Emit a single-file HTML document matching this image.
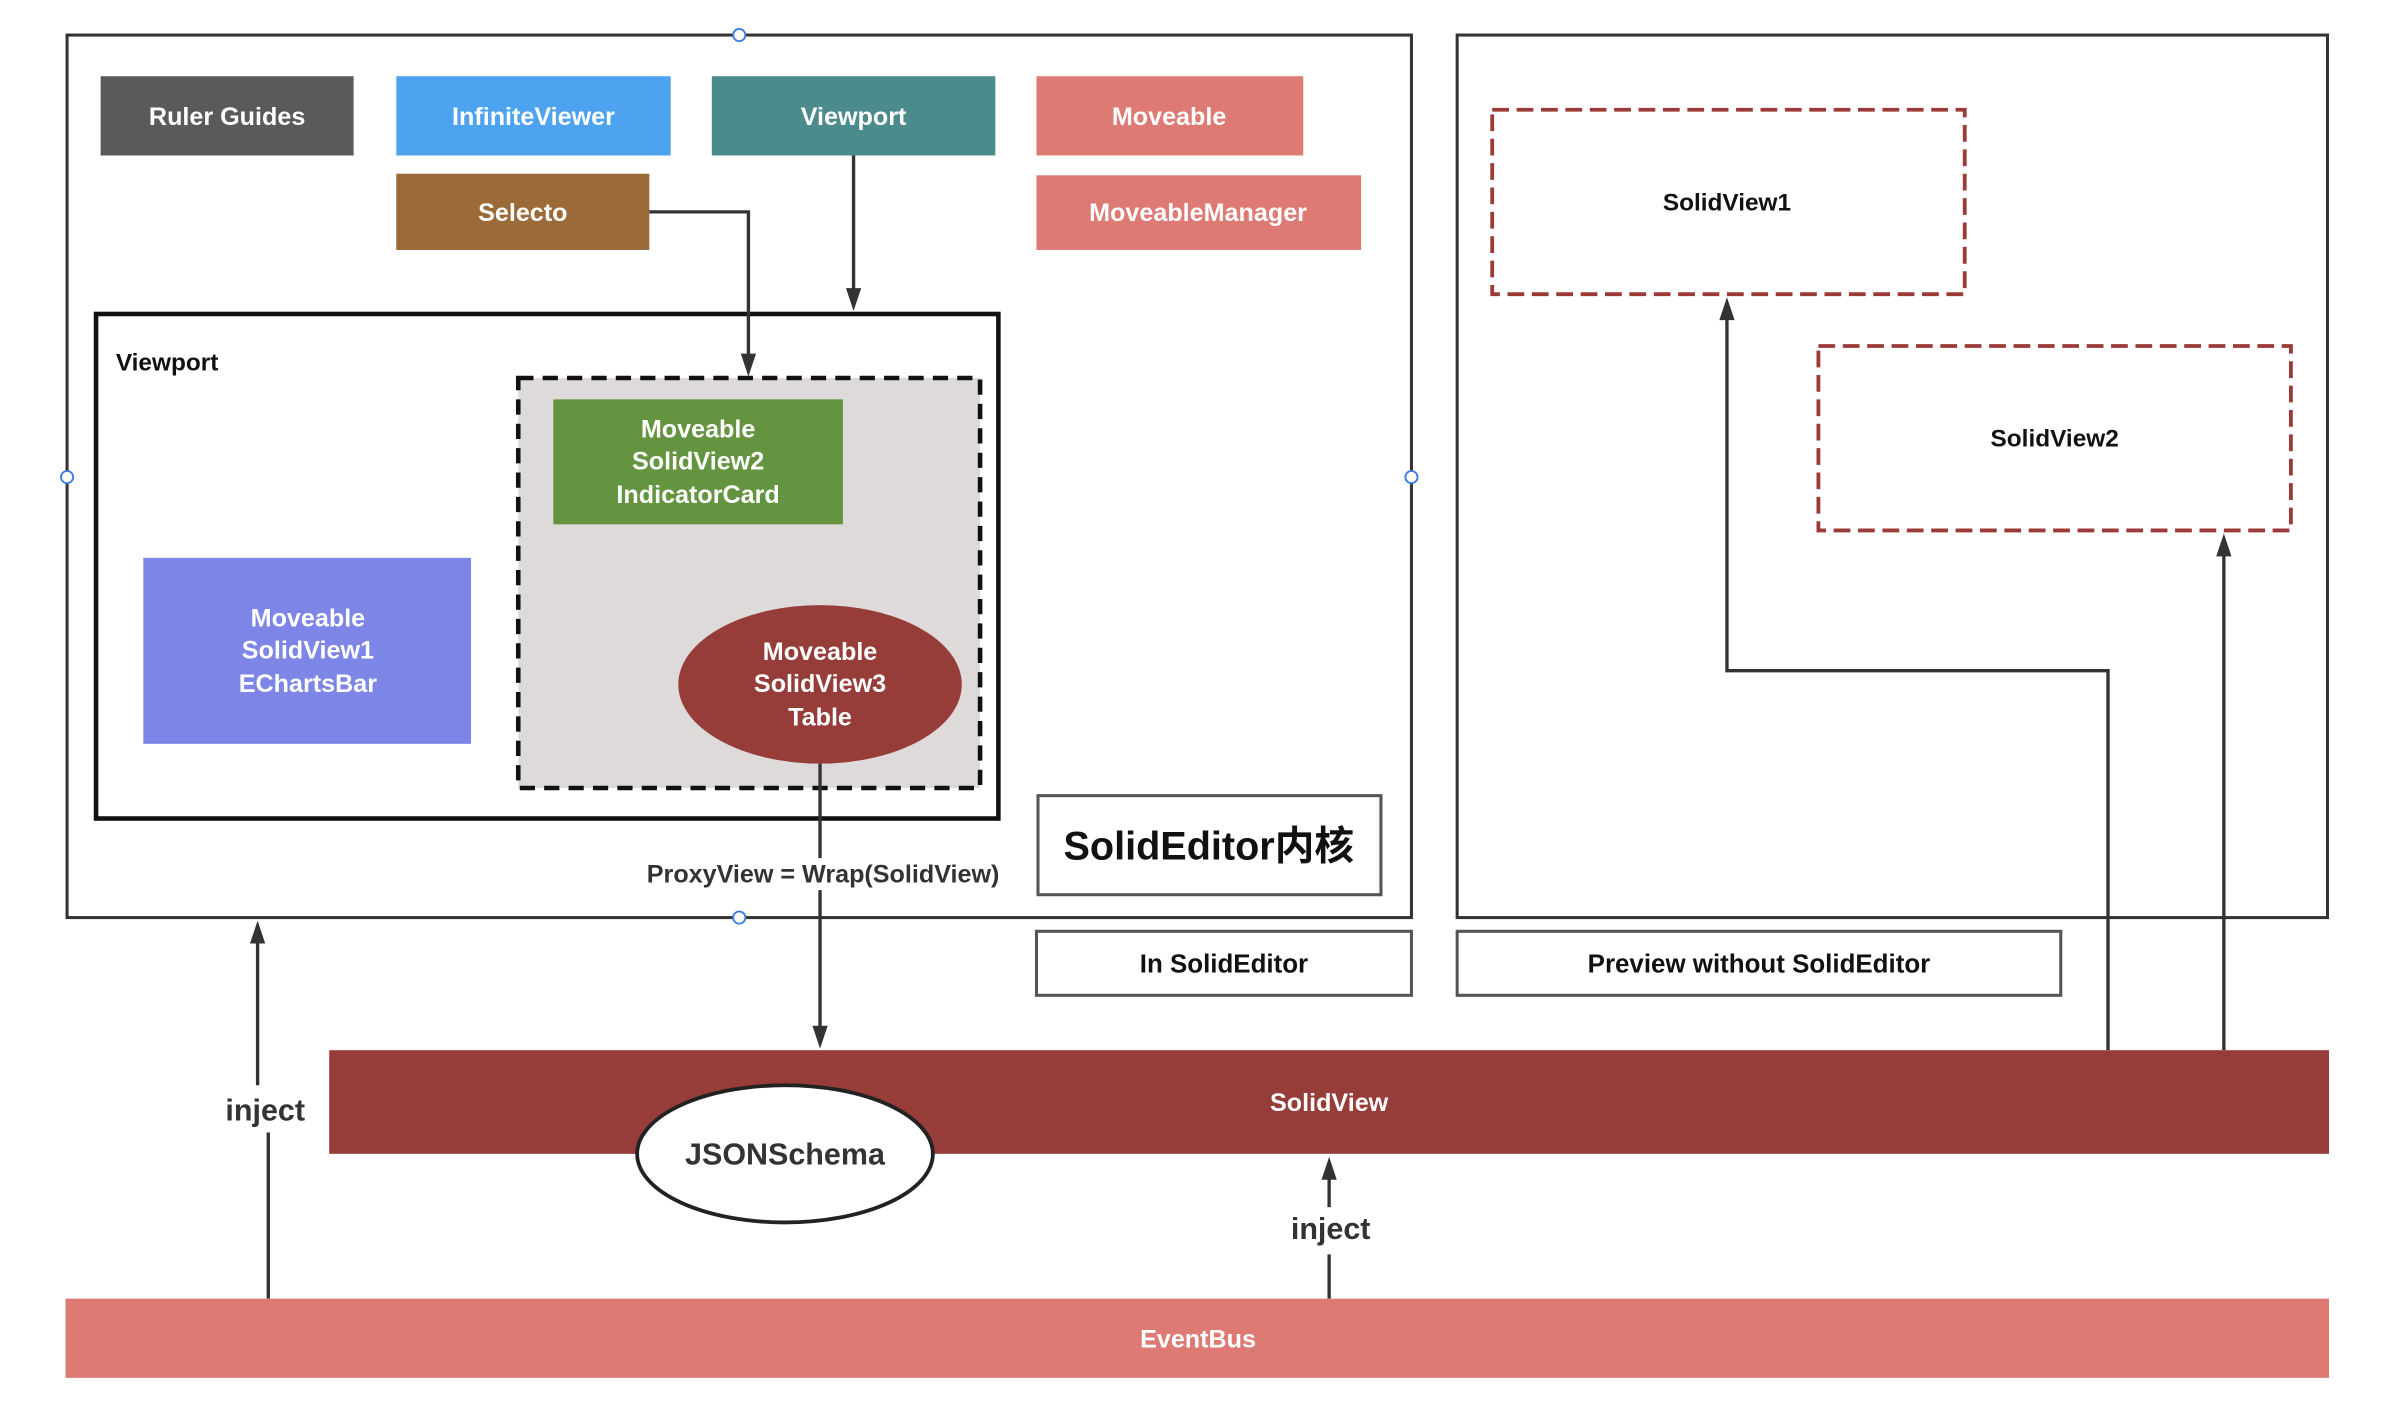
<!DOCTYPE html>
<html><head><meta charset="utf-8">
<style>
html,body{margin:0;padding:0;background:#fff;}
svg{display:block;}
text{font-family:"Liberation Sans","Noto Sans CJK SC",sans-serif;font-weight:bold;}
</style></head>
<body>
<svg width="2390" height="1416" viewBox="0 0 1568 929" xmlns="http://www.w3.org/2000/svg">
<rect width="1568" height="929" fill="#fff"/>
<rect x="44" y="23" width="882" height="579" fill="none" stroke="#333" stroke-width="2"/>
<rect x="956" y="23" width="571" height="579" fill="none" stroke="#333" stroke-width="2"/>
<g fill="#fff" stroke="#3a7be0" stroke-width="1.2">
<circle cx="485" cy="23" r="4"/><circle cx="44" cy="313" r="4"/><circle cx="926" cy="313" r="4"/><circle cx="485" cy="602" r="4"/>
</g>
<g font-size="16.5" text-anchor="middle">
<rect x="66" y="50" width="166" height="52" fill="#5a5a5a"/><text x="149" y="82" fill="#fff">Ruler Guides</text>
<rect x="260" y="50" width="180" height="52" fill="#4da3f0"/><text x="350" y="82" fill="#fff">InfiniteViewer</text>
<rect x="467" y="50" width="186" height="52" fill="#4c8b8c"/><text x="560" y="82" fill="#fff">Viewport</text>
<rect x="680" y="50" width="175" height="52" fill="#de7a74"/><text x="767" y="82" fill="#fff">Moveable</text>
<rect x="260" y="114" width="166" height="50" fill="#9c6a39"/><text x="343" y="145" fill="#fff">Selecto</text>
<rect x="680" y="115" width="213" height="49" fill="#de7a74"/><text x="786" y="145" fill="#fff">MoveableManager</text>
</g>
<rect x="63" y="206" width="592" height="331" fill="none" stroke="#111" stroke-width="3"/>
<text x="76" y="243" font-size="16" fill="#111">Viewport</text>
<rect x="340" y="248" width="303" height="269" fill="#dedada" stroke="#111" stroke-width="3" stroke-dasharray="10,6"/>
<rect x="363" y="262" width="190" height="82" fill="#649440"/>
<g font-size="16.5" text-anchor="middle">
<text x="458" y="287" fill="#fff">Moveable</text>
<text x="458" y="308" fill="#fff">SolidView2</text>
<text x="458" y="330" fill="#fff">IndicatorCard</text>
</g>
<rect x="94" y="366" width="215" height="122" fill="#7d85e6"/>
<g font-size="16.5" text-anchor="middle">
<text x="202" y="411" fill="#fff">Moveable</text>
<text x="202" y="432" fill="#fff">SolidView1</text>
<text x="202" y="454" fill="#fff">EChartsBar</text>
</g>
<ellipse cx="538" cy="449" rx="93" ry="52" fill="#963d3a"/>
<g font-size="16.5" text-anchor="middle">
<text x="538" y="433" fill="#fff">Moveable</text>
<text x="538" y="454" fill="#fff">SolidView3</text>
<text x="538" y="476" fill="#fff">Table</text>
</g>
<g stroke="#333" stroke-width="2.2" fill="none">
<path d="M426,139 H491 V236"/>
<path d="M560,102 V194"/>
<path d="M538,501 V563"/>
<path d="M538,584 V676"/>
<path d="M1383,689 V440 H1133 V206"/>
<path d="M1459,689 V362"/>
<path d="M176,852 V743"/>
<path d="M169,712 V618"/>
<path d="M872,852 V823"/>
<path d="M872,792 V771"/>
</g>
<g fill="#333">
<polygon points="486,232 496,232 491,247"/>
<polygon points="555,189 565,189 560,204"/>
<polygon points="533,673 543,673 538,688"/>
<polygon points="1128,210 1138,210 1133,195"/>
<polygon points="1454,365 1464,365 1459,350"/>
<polygon points="164,619 174,619 169,604"/>
<polygon points="867,774 877,774 872,759"/>
</g>
<text x="540" y="579" font-size="16.5" fill="#333" text-anchor="middle">ProxyView = Wrap(SolidView)</text>
<rect x="681" y="522" width="225" height="65" fill="#fff" stroke="#555" stroke-width="2"/>
<text x="793" y="564" font-size="26" fill="#111" text-anchor="middle">SolidEditor内核</text>
<rect x="680" y="611" width="246" height="42" fill="#fff" stroke="#555" stroke-width="2"/>
<text x="803" y="638" font-size="17" fill="#111" text-anchor="middle">In SolidEditor</text>
<rect x="956" y="611" width="396" height="42" fill="#fff" stroke="#555" stroke-width="2"/>
<text x="1154" y="638" font-size="17" fill="#111" text-anchor="middle">Preview without SolidEditor</text>
<rect x="979" y="72" width="310" height="121" fill="none" stroke="#9b3a37" stroke-width="2.5" stroke-dasharray="11,5"/>
<text x="1133" y="138" font-size="16" fill="#111" text-anchor="middle">SolidView1</text>
<rect x="1193" y="227" width="310" height="121" fill="none" stroke="#9b3a37" stroke-width="2.5" stroke-dasharray="11,5"/>
<text x="1348" y="293" font-size="16" fill="#111" text-anchor="middle">SolidView2</text>
<rect x="216" y="689" width="1312" height="68" fill="#963d3a"/>
<text x="872" y="729" font-size="16.5" fill="#fff" text-anchor="middle">SolidView</text>
<ellipse cx="515" cy="757" rx="97" ry="45" fill="#fff" stroke="#222" stroke-width="2.5"/>
<text x="515" y="764" font-size="20" fill="#333" text-anchor="middle">JSONSchema</text>
<rect x="43" y="852" width="1485" height="52" fill="#de7a74"/>
<text x="786" y="884" font-size="16.5" fill="#fff" text-anchor="middle">EventBus</text>
<text x="174" y="735" font-size="20" fill="#333" text-anchor="middle">inject</text>
<text x="873" y="813" font-size="20" fill="#333" text-anchor="middle">inject</text>
</svg>
</body></html>
